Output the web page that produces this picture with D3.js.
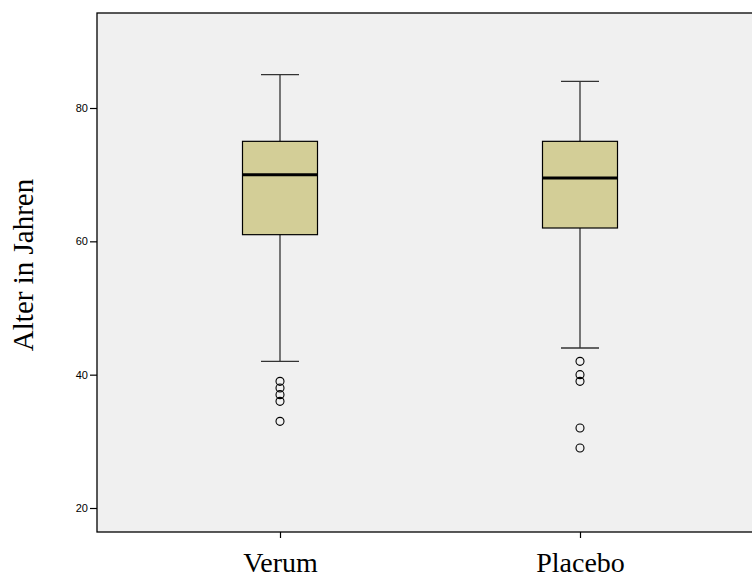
<!DOCTYPE html>
<html><head><meta charset="utf-8">
<script src="https://cdn.jsdelivr.net/npm/d3@7"></script>
<style>body{margin:0;background:#fff}svg{display:block}</style>
</head><body>
<script>
const categories = ["Verum", "Placebo"];
const whiskerLow = [42, 44];
const q1 = [61, 62];
const median = [70, 69.5];
const q3 = [75, 75];
const whiskerHigh = [85, 84];
const outliers = [[39, 38, 37, 36, 33], [42, 40, 39, 32, 29]];
const yTicks = [20, 40, 60, 80];

const W = 752, H = 579;
const pLeft = 97, pTop = 13, pBottom = 532, pRight = 770;
const svg = d3.select("body").append("svg").attr("width", W).attr("height", H);

const y = d3.scaleLinear().domain([20, 80]).range([508, 108]);
const x = d3.scalePoint().domain(categories).range([130, 730]).padding(0.5);

svg.append("rect").attr("x", pLeft).attr("y", pTop).attr("width", pRight - pLeft).attr("height", pBottom - pTop)
  .attr("fill", "#f0f0f0").attr("stroke", "#000").attr("stroke-width", 1.3);

const yAxis = d3.axisLeft(y).tickValues(yTicks).tickSize(7).tickPadding(2);
const gy = svg.append("g").attr("transform", `translate(${pLeft},0)`).call(yAxis);
gy.select(".domain").remove();
gy.selectAll("text").attr("font-family", "Liberation Sans, Arial, sans-serif").attr("font-size", 11).attr("fill", "#000");
gy.selectAll("line").attr("stroke", "#000").attr("stroke-width", 1.2);

const xAxis = d3.axisBottom(x).tickSize(6);
const gx = svg.append("g").attr("transform", `translate(0,${pBottom})`).call(xAxis);
gx.select(".domain").remove();
gx.selectAll("text").attr("font-family", "Liberation Serif, Times New Roman, serif").attr("font-size", 28)
  .attr("fill", "#000").attr("y", 40).attr("dy", 0);
gx.selectAll("line").attr("stroke", "#000").attr("stroke-width", 1.2);

svg.append("text").attr("transform", `translate(33,265) rotate(-90)`)
  .attr("text-anchor", "middle")
  .attr("font-family", "Liberation Serif, Times New Roman, serif").attr("font-size", 29)
  .text("Alter in Jahren");

const boxW = 75, capW = 38;
categories.forEach((c, i) => {
  const cx = x(c);
  const g = svg.append("g");
  g.append("line").attr("x1", cx).attr("x2", cx).attr("y1", y(whiskerHigh[i])).attr("y2", y(q3[i])).attr("stroke", "#333").attr("stroke-width", 1.3);
  g.append("line").attr("x1", cx).attr("x2", cx).attr("y1", y(q1[i])).attr("y2", y(whiskerLow[i])).attr("stroke", "#333").attr("stroke-width", 1.3);
  g.append("line").attr("x1", cx - capW/2).attr("x2", cx + capW/2).attr("y1", y(whiskerHigh[i])).attr("y2", y(whiskerHigh[i])).attr("stroke", "#333").attr("stroke-width", 1.3);
  g.append("line").attr("x1", cx - capW/2).attr("x2", cx + capW/2).attr("y1", y(whiskerLow[i])).attr("y2", y(whiskerLow[i])).attr("stroke", "#333").attr("stroke-width", 1.3);
  g.append("rect").attr("x", cx - boxW/2).attr("y", y(q3[i])).attr("width", boxW).attr("height", y(q1[i]) - y(q3[i]))
    .attr("fill", "#d3ce97").attr("stroke", "#000").attr("stroke-width", 1.2);
  g.append("line").attr("x1", cx - boxW/2).attr("x2", cx + boxW/2).attr("y1", y(median[i])).attr("y2", y(median[i])).attr("stroke", "#000").attr("stroke-width", 3);
  g.selectAll("circle").data(outliers[i]).enter().append("circle")
    .attr("cx", cx).attr("cy", d => y(d)).attr("r", 4).attr("fill", "none").attr("stroke", "#000").attr("stroke-width", 1.1);
});
</script>
</body></html>
